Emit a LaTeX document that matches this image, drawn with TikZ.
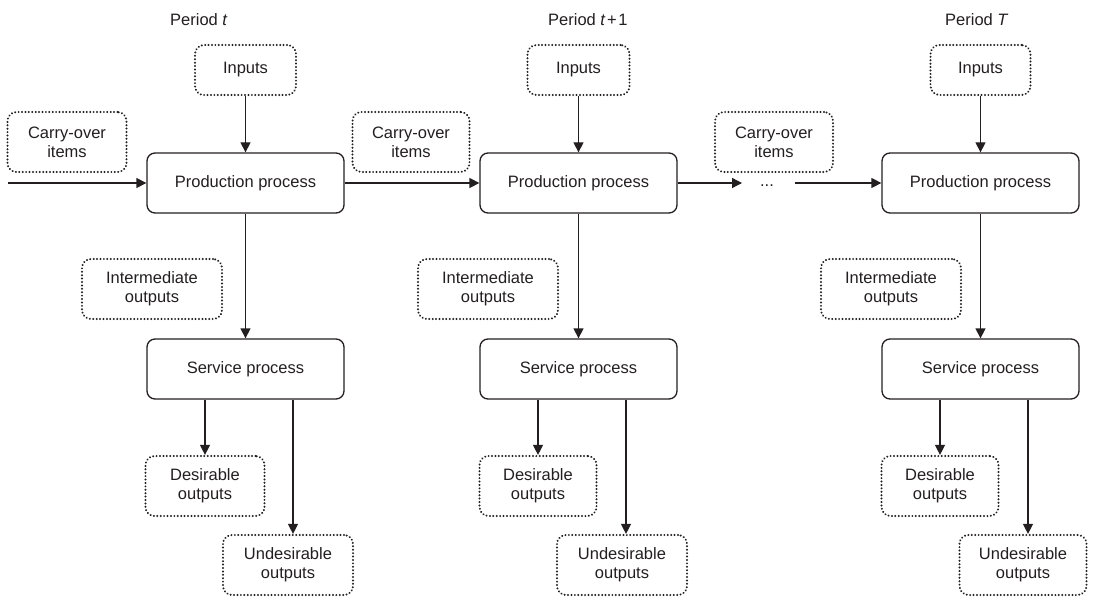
\documentclass[tikz,border=0pt]{standalone}
\usepackage{fontspec}
\setmainfont{Liberation Sans}
\usetikzlibrary{arrows.meta}
\definecolor{ink}{HTML}{231F20}
\begin{document}
\begin{tikzpicture}[x=1pt,y=-1pt,
  every node/.style={font=\fontsize{16.5}{19}\selectfont, text=ink},
  procbox/.style={draw=ink, line width=1.3pt, rounded corners=8pt,
    minimum width=197pt, minimum height=60pt, inner sep=0pt},
  dotbox/.style={draw=ink, line width=2.2pt, line cap=round,
    dash pattern=on 0.01pt off 3.4pt, rounded corners=9pt,
    minimum height=60pt, inner sep=0pt, align=center},
  flow/.style={draw=ink, line width=1.3pt,
    -{Triangle[length=10pt,width=10pt]}},
  label/.style={anchor=west, inner sep=0pt}]
\useasboundingbox (0,0) rectangle (1095,599);

% period headings
\node[label] (pt1) at (170,20) {Period \textit{t}};
\node[label] (pt2) at (548,20) {Period \textit{t}\hspace{1.5pt}+\hspace{1.5pt}1};
\node[label] (pt3) at (945,20) {Period \textit{T}};

% period t
\node[dotbox, minimum width=101pt, minimum height=50pt] (in1) at (245.5,70) {Inputs};
\node[dotbox, minimum width=119pt] (co1) at (67,142) {Carry-over\\items};
\node[procbox] (pp1) at (245.5,183) {Production process};
\node[dotbox, minimum width=140pt] (io1) at (152,289) {Intermediate\\outputs};
\node[procbox] (sp1) at (245.5,369) {Service process};
\node[dotbox, minimum width=119pt] (do1) at (205,486) {Desirable\\outputs};
\node[dotbox, minimum width=130pt] (uo1) at (288,565) {Undesirable\\outputs};
\coordinate (u1) at (293,0);

% period t+1
\node[dotbox, minimum width=102pt, minimum height=50pt] (in2) at (578.5,70) {Inputs};
\node[dotbox, minimum width=117pt] (co2) at (411,142) {Carry-over\\items};
\node[procbox] (pp2) at (578.5,183) {Production process};
\node[dotbox, minimum width=140pt] (io2) at (488,289) {Intermediate\\outputs};
\node[procbox] (sp2) at (578.5,369) {Service process};
\node[dotbox, minimum width=117pt] (do2) at (538,486) {Desirable\\outputs};
\node[dotbox, minimum width=130pt] (uo2) at (622,565) {Undesirable\\outputs};
\coordinate (u2) at (626,0);

% period T
\node[dotbox, minimum width=100pt, minimum height=50pt] (in3) at (980.5,70) {Inputs};
\node[dotbox, minimum width=118pt] (co3) at (774,142) {Carry-over\\items};
\node[procbox] (pp3) at (980.5,183) {Production process};
\node[dotbox, minimum width=140pt] (io3) at (891,289) {Intermediate\\outputs};
\node[procbox] (sp3) at (980.5,369) {Service process};
\node[dotbox, minimum width=117pt] (do3) at (940,486) {Desirable\\outputs};
\node[dotbox, minimum width=127pt] (uo3) at (1023,565) {Undesirable\\outputs};
\coordinate (u3) at (1028,0);

% carry-over chain between periods
\coordinate (start) at (8,183);
\coordinate (gapin) at (742,183);
\coordinate (gapout) at (795,183);
\node[inner sep=0pt, anchor=base] (dots) at (767,186) {...};
\draw[flow] (start) -- (pp1.west);
\draw[flow] (pp1.east) -- (pp2.west);
\draw[flow] (pp2.east) -- (gapin);
\draw[flow] (gapout) -- (pp3.west);

% flows inside each period
\foreach \k in {1,2,3}{
  \draw[flow] (in\k.south) -- (pp\k.north);
  \draw[flow] (pp\k.south) -- (sp\k.north);
  \draw[flow] (sp\k.south -| do\k.north) -- (do\k.north);
  \draw[flow] (sp\k.south -| u\k) -- (uo\k.north -| u\k);
}
\end{tikzpicture}
\end{document}
